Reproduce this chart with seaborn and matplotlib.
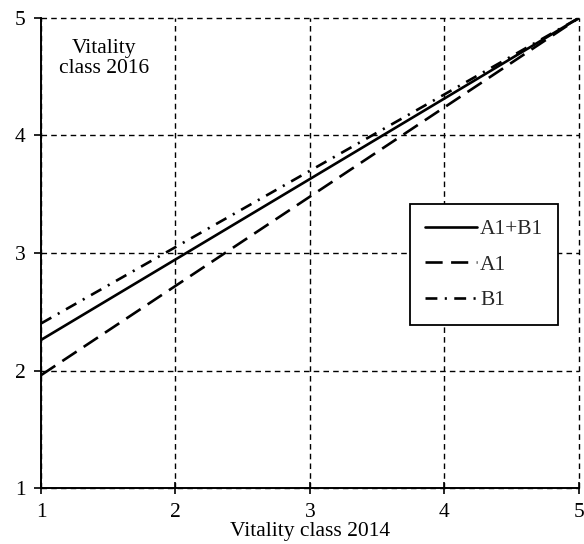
import seaborn as sns
import pandas as pd
import matplotlib.pyplot as plt

# values (class 2014 -> class 2016)
x_2014 = [1, 5]
ab1_2016 = [2.26, 5.0]
a1_2016 = [1.96, 5.0]
b1_2016 = [2.40, 5.0]
series_names = ["A1+B1", "A1", "B1"]
tick_values = [1, 2, 3, 4, 5]


def main():
    sns.set_theme(style="white")
    plt.rcParams['font.family'] = ['Liberation Serif', 'DejaVu Serif']

    df = pd.concat([
        pd.DataFrame({"x": x_2014, "y": ab1_2016, "series": series_names[0]}),
        pd.DataFrame({"x": x_2014, "y": a1_2016, "series": series_names[1]}),
        pd.DataFrame({"x": x_2014, "y": b1_2016, "series": series_names[2]}),
    ])

    fig = plt.figure(figsize=(5.84, 5.44), dpi=100)
    ax = fig.add_axes([0.0702, 0.1029, 0.9212, 0.8641])

    dashes = {"A1+B1": "", "A1": (6.5, 3.2), "B1": (4.5, 2.8, 0.8, 2.8)}
    sns.lineplot(data=df, x="x", y="y", style="series", dashes=dashes,
                 color="black", linewidth=1.9, ax=ax, legend=True)

    ax.set_xlim(1, 5)
    ax.set_ylim(1, 5)
    ax.set_xticks(tick_values)
    ax.set_yticks(tick_values)
    ax.grid(True, color="black", linestyle=(0, (4, 3)), linewidth=1.0)
    for gl in ax.get_xgridlines() + ax.get_ygridlines():
        gl.set_clip_on(False)
    ax.set_axisbelow(True)
    for s in ["top", "right"]:
        ax.spines[s].set_visible(False)
    for s in ["left", "bottom"]:
        ax.spines[s].set_color("black")
        ax.spines[s].set_linewidth(1.4)

    fs = 15.5
    ax.tick_params(axis="x", direction="inout", length=8, width=1.2,
                   colors="black", labelsize=fs, pad=7, bottom=True)
    ax.tick_params(axis="y", direction="out", length=5, width=1.2,
                   colors="black", labelsize=fs, pad=6, left=True)

    ax.set_xlabel("Vitality class 2014", fontsize=fs, color="black", labelpad=0)
    ax.set_ylabel("")
    ax.text(0.118, 0.955, "Vitality\nclass 2016", transform=ax.transAxes,
            ha="center", va="top", fontsize=fs, color="black", linespacing=1.05)

    leg = ax.legend(loc="upper left", bbox_to_anchor=(0.686, 0.604),
                    fontsize=fs, frameon=True, fancybox=False,
                    edgecolor="black", framealpha=1, handlelength=2.4,
                    handletextpad=0.15, labelspacing=0.72, borderpad=0.7,
                    borderaxespad=0, title=None)
    leg.get_frame().set_linewidth(1.3)
    for h in leg.get_lines():
        h.set_linewidth(1.9)

    fig.savefig("out.png", dpi=100)


if __name__ == "__main__":
    main()
